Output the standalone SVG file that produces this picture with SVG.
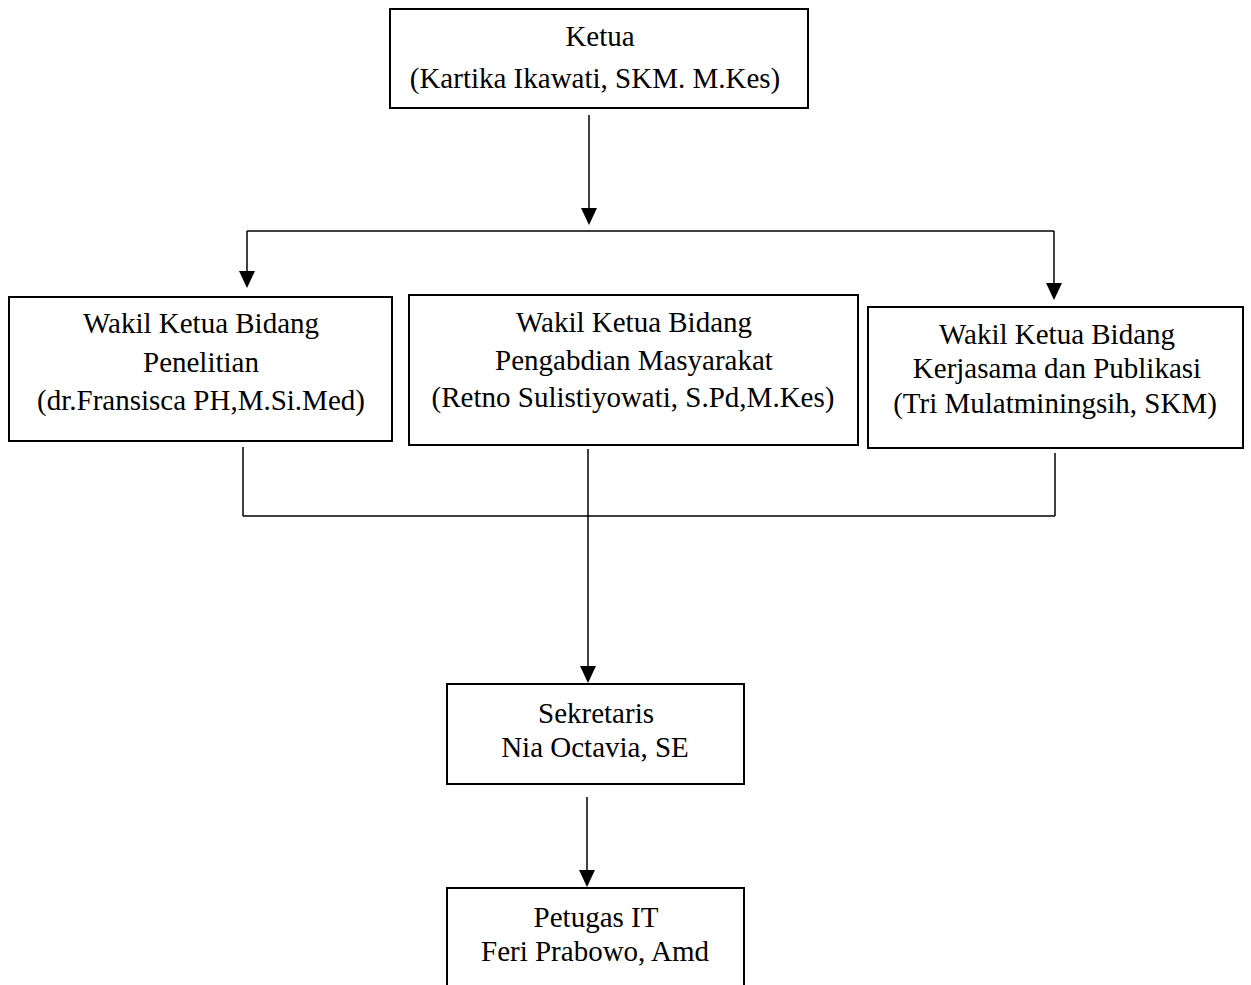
<svg xmlns="http://www.w3.org/2000/svg" width="1251" height="985" viewBox="0 0 1251 985">
<style>
.box{fill:#fff;stroke:#000;stroke-width:2}
.t{font-family:"Liberation Serif","Times New Roman",serif;font-size:29px;fill:#000;text-anchor:middle}
.c{fill:none;stroke:#000;stroke-width:1.5}
</style>
<defs>
<marker id="ah" markerUnits="userSpaceOnUse" viewBox="0 -8 17 16" markerWidth="17" markerHeight="16" refX="13" refY="0" orient="auto">
<path d="M0,-8 L17,0 L0,8 z" fill="#000"/>
</marker>
</defs>
<rect width="1251" height="985" fill="#fff"/>
<g id="connectors">
<path class="c" d="M589,115 V221" marker-end="url(#ah)"/>
<path class="c" d="M247,231 H1054"/>
<path class="c" d="M247,231 V284" stroke-width="2" marker-end="url(#ah)"/>
<path class="c" d="M1054,231 V296" marker-end="url(#ah)"/>
<path class="c" d="M243,447 V516" stroke-width="2"/>
<path class="c" d="M1055,453 V516" stroke-width="2"/>
<path class="c" d="M243,516 H1055"/>
<path class="c" d="M588,449 V679" marker-end="url(#ah)"/>
<path class="c" d="M587,797 V883" marker-end="url(#ah)"/>
</g>
<g id="ketua">
<rect class="box" x="390" y="9" width="418" height="99"/>
<text class="t" x="600" y="46">Ketua</text>
<text class="t" x="595" y="88">(Kartika Ikawati, SKM. M.Kes)</text>
</g>
<g id="wakil-penelitian">
<rect class="box" x="9" y="297" width="383" height="144"/>
<text class="t" x="201" y="333">Wakil Ketua Bidang</text>
<text class="t" x="201" y="372">Penelitian</text>
<text class="t" x="201" y="410">(dr.Fransisca PH,M.Si.Med)</text>
</g>
<g id="wakil-pengabdian">
<rect class="box" x="409" y="295" width="449" height="150"/>
<text class="t" x="634" y="332">Wakil Ketua Bidang</text>
<text class="t" x="634" y="370">Pengabdian Masyarakat</text>
<text class="t" x="633" y="407">(Retno Sulistiyowati, S.Pd,M.Kes)</text>
</g>
<g id="wakil-kerjasama">
<rect class="box" x="868" y="307" width="375" height="141"/>
<text class="t" x="1057" y="344">Wakil Ketua Bidang</text>
<text class="t" x="1057" y="378">Kerjasama dan Publikasi</text>
<text class="t" x="1055" y="413">(Tri Mulatminingsih, SKM)</text>
</g>
<g id="sekretaris">
<rect class="box" x="447" y="684" width="297" height="100"/>
<text class="t" x="596" y="723">Sekretaris</text>
<text class="t" x="595" y="757">Nia Octavia, SE</text>
</g>
<g id="petugas-it">
<rect class="box" x="447" y="888" width="297" height="120"/>
<text class="t" x="596" y="927">Petugas IT</text>
<text class="t" x="595" y="961">Feri Prabowo, Amd</text>
</g>
</svg>
